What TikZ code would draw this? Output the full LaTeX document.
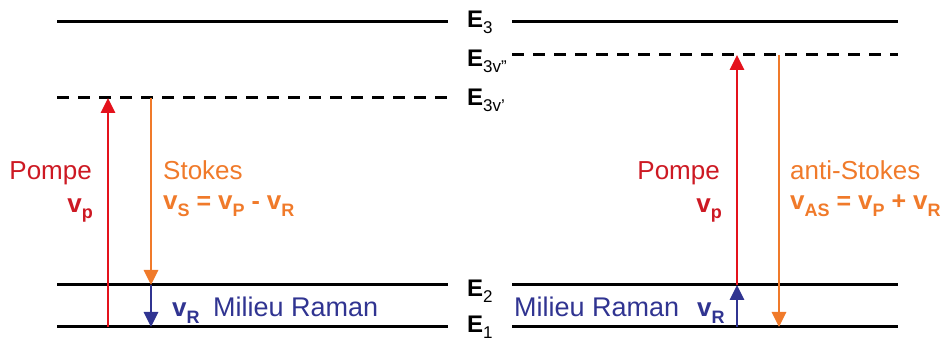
\documentclass[tikz,border=0pt]{standalone}
\usepackage{fontspec}
\setmainfont{Liberation Sans}
\usetikzlibrary{arrows.meta}
\definecolor{arred}{RGB}{228,18,28}
\definecolor{txred}{RGB}{205,25,35}
\definecolor{orng}{RGB}{240,122,42}
\definecolor{navy}{RGB}{48,52,145}
\newcommand{\lsub}[2]{\raisebox{-#1}{\fontsize{18}{18}\selectfont #2}}
\newcommand{\esub}[1]{\raisebox{-6pt}{\fontsize{17}{17}\selectfont\mdseries #1}}
\newcommand{\bv}{{\fontsize{26}{26}\selectfont\bfseries v}}
\begin{document}
\begin{tikzpicture}[x=1pt,y=-1pt,
  level/.style={line width=3pt,black},
  dlevel/.style={line width=3pt,black,dash pattern=on 12pt off 9pt},
  arr/.style={line width=2.8pt,-{Triangle[width=14pt,length=15pt]}},
  big/.style={font=\fontsize{26}{26}\selectfont,inner sep=0pt},
  mr/.style={font=\fontsize{27}{27}\selectfont,inner sep=0pt},
  elab/.style={font=\fontsize{24}{24}\selectfont\bfseries,inner sep=0pt,anchor=base west},
  form/.style={font=\fontsize{25}{25}\selectfont\bfseries,inner sep=0pt}]
\useasboundingbox (0,0) rectangle (946,352);
% levels
\coordinate (L3a) at (57,22);   \coordinate (L3b) at (448,22);
\coordinate (R3a) at (512,22);  \coordinate (R3b) at (898,22);
\coordinate (Lva) at (57,98);   \coordinate (Lvb) at (448,98);
\coordinate (Rva) at (512,55);  \coordinate (Rvb) at (898,55);
\coordinate (L2a) at (57,285);  \coordinate (L2b) at (448,285);
\coordinate (R2a) at (512,285); \coordinate (R2b) at (898,285);
\coordinate (L1a) at (57,327);  \coordinate (L1b) at (448,327);
\coordinate (R1a) at (512,327); \coordinate (R1b) at (898,327);
\draw[level] (L3a) -- (L3b);
\draw[level] (R3a) -- (R3b);
\draw[dlevel] (Lva) -- (Lvb);
\draw[dlevel] (Rva) -- (Rvb);
\draw[level] (L2a) -- (L2b);
\draw[level] (R2a) -- (R2b);
\draw[level] (L1a) -- (L1b);
\draw[level] (R1a) -- (R1b);
% level labels
\node[elab] (e3) at (467,28) {E\esub{3}};
\node[elab] (e3vv) at (467,67) {E\esub{3v''}};
\node[elab] (e3v) at (467,106) {E\esub{3v'}};
\node[elab] (e2) at (467,297) {E\esub{2}};
\node[elab] (e1) at (467,333) {E\esub{1}};
% left arrows
\coordinate (pl0) at (108,327); \coordinate (pl1) at (108,98);
\coordinate (sl0) at (151,98);  \coordinate (sl1) at (151,285);
\coordinate (rl1) at (151,327);
\draw[arr,arred] (pl0) -- (pl1);
\draw[arr,orng] (sl0) -- (sl1);
\draw[arr,navy] (sl1) -- (rl1);
% right arrows
\coordinate (pr0) at (737,285); \coordinate (pr1) at (737,55);
\coordinate (br0) at (737,327);
\coordinate (ar0) at (779,55);  \coordinate (ar1) at (779,327);
\draw[arr,arred] (pr0) -- (pr1);
\draw[arr,navy] (br0) -- (pr0);
\draw[arr,orng] (ar0) -- (ar1);
% left texts
\node[big,txred,anchor=base east] (pompeL) at (92,180) {Pompe};
\node[form,txred,anchor=base east] (vpL) at (93,213) {\bv\lsub{6pt}{p}};
\node[big,orng,anchor=base west] (stokes) at (163,180) {Stokes};
\node[form,orng,anchor=base west] (fs) at (163,210) {\bv\lsub{7pt}{S} = \bv\lsub{7pt}{P} - \bv\lsub{7pt}{R}};
\node[form,navy,anchor=base west] (vrL) at (172,317) {\bv\lsub{7pt}{R}};
\node[mr,navy,anchor=base west] (mrL) at (213,317) {Milieu Raman};
% right texts
\node[big,txred,anchor=base east] (pompeR) at (720,180) {Pompe};
\node[form,txred,anchor=base east] (vpR) at (722,213) {\bv\lsub{6pt}{p}};
\node[big,orng,anchor=base west] (astokes) at (790,180) {anti-Stokes};
\node[form,orng,anchor=base west] (fas) at (790,210) {\bv\lsub{7pt}{AS} = \bv\lsub{7pt}{P} + \bv\lsub{7pt}{R}};
\node[mr,navy,anchor=base west] (mrR) at (514,317) {Milieu Raman};
\node[form,navy,anchor=base west] (vrR) at (697,317) {\bv\lsub{7pt}{R}};
\end{tikzpicture}
\end{document}
